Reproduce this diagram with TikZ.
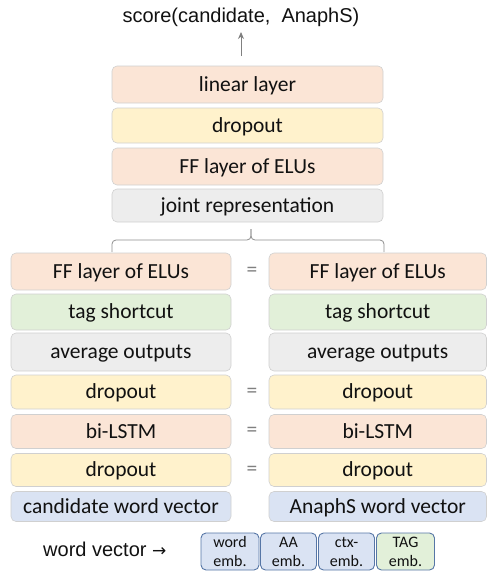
\documentclass[tikz,border=0pt]{standalone}
\usepackage{fontspec}
\setmainfont{Carlito}
\newfontfamily\arialfont{Liberation Sans}
\usetikzlibrary{arrows.meta}
\definecolor{peach}{HTML}{FBE5D6}
\definecolor{yel}{HTML}{FFF2CC}
\definecolor{grn}{HTML}{E2F0D9}
\definecolor{gry}{HTML}{EDEDED}
\definecolor{blu}{HTML}{DAE3F3}
\definecolor{edgegray}{HTML}{D0D0D0}
\definecolor{wvedge}{HTML}{5676A6}
\definecolor{txt}{HTML}{111111}
\definecolor{eqgray}{HTML}{808080}
\tikzset{
  layer/.style={draw=edgegray, line width=0.6pt, rounded corners=5pt,
    font=\fontsize{21.5}{24}\selectfont, text=txt,
    text height=16pt, text depth=3pt, inner sep=0pt},
  topbox/.style={layer, minimum width=271pt},
  leftbox/.style={layer, minimum width=220pt},
  rightbox/.style={layer, minimum width=217.5pt},
  wvbox/.style={draw=wvedge, line width=0.9pt, rounded corners=5pt,
    font=\fontsize{16}{19}\selectfont, text=txt, align=center,
    inner sep=0pt, minimum height=37pt},
  eqsign/.style={font=\fontsize{21.5}{24}\selectfont, text=eqgray},
  arialtxt/.style={font=\arialfont\fontsize{20}{24}\selectfont, text=txt, inner sep=0pt}
}
\begin{document}
\begin{tikzpicture}[x=1pt,y=-1pt]
\useasboundingbox (0,0) rectangle (487,573);
% top stack
\node[topbox, fill=peach, minimum height=37pt] (lin) at (247.5,84.5) {linear layer};
\node[topbox, fill=yel, minimum height=35pt] (tdrop) at (247.5,125.5) {dropout};
\node[topbox, fill=peach, minimum height=37pt] (tff) at (247.5,166.5) {FF layer of ELUs};
\node[topbox, fill=gry, minimum height=33pt] (joint) at (247.5,205.5) {joint representation};
% score and arrow
\node[arialtxt, anchor=base] (score) at (241,22) {score(candidate,\ \ AnaphS)};
\coordinate (arrlow) at (241,56);
\coordinate (arrhigh) at (241,32);
\draw[eqgray, line width=0.9pt, -{Stealth[length=7pt,width=6pt]}] (arrlow) -- (arrhigh);
% brace
\coordinate (bl) at (112,252);
\coordinate (br) at (384,252);
\coordinate (bc) at (251,229);
\draw[eqgray!90, line width=0.8pt, rounded corners=4pt] (bl) |- (bc |- 0,240) -- (bc);
\draw[eqgray!90, line width=0.8pt, rounded corners=4pt] (br) |- (bc |- 0,240) -- (bc);
% left column
\node[leftbox, fill=peach, minimum height=37pt] (lff) at (121,271.5) {FF layer of ELUs};
\node[leftbox, fill=grn, minimum height=36pt] (ltag) at (121,312) {tag shortcut};
\node[leftbox, fill=gry, minimum height=38pt] (lavg) at (121,352) {average outputs};
\node[leftbox, fill=yel, minimum height=34pt] (ld1) at (121,392) {dropout};
\node[leftbox, fill=peach, minimum height=34pt] (llstm) at (121,431.5) {bi-LSTM};
\node[leftbox, fill=yel, minimum height=33pt] (ld2) at (121,470) {dropout};
\node[leftbox, fill=blu, minimum height=30pt] (lwv) at (121,506.5) {candidate word vector};
% right column
\node[rightbox, fill=peach, minimum height=37pt] (rff) at (377.75,271.5) {FF layer of ELUs};
\node[rightbox, fill=grn, minimum height=36pt] (rtag) at (377.75,312) {tag shortcut};
\node[rightbox, fill=gry, minimum height=38pt] (ravg) at (377.75,352) {average outputs};
\node[rightbox, fill=yel, minimum height=34pt] (rd1) at (377.75,392) {dropout};
\node[rightbox, fill=peach, minimum height=34pt] (rlstm) at (377.75,431.5) {bi-LSTM};
\node[rightbox, fill=yel, minimum height=33pt] (rd2) at (377.75,470) {dropout};
\node[rightbox, fill=blu, minimum height=30pt] (rwv) at (377.75,506.5) {AnaphS word vector};
% equals signs
\node[eqsign] (e1) at (252,271.5) {=};
\node[eqsign] (e2) at (252,393) {=};
\node[eqsign] (e3) at (252,432) {=};
\node[eqsign] (e4) at (252,471) {=};
% word vector
\node[arialtxt, anchor=base west] (wvlabel) at (43,556.5) {word vector \fontspec{DejaVu Sans}\fontsize{17}{20}\selectfont→};
\node[wvbox, fill=blu, minimum width=58pt] (w1) at (230,551.5) {word\\emb.};
\node[wvbox, fill=blu, minimum width=56pt] (w2) at (288.5,551.5) {AA\\emb.};
\node[wvbox, fill=blu, minimum width=56pt] (w3) at (346.5,551.5) {ctx-\\emb.};
\node[wvbox, fill=grn, minimum width=58pt] (w4) at (405.5,551.5) {TAG\\emb.};
\end{tikzpicture}
\end{document}
